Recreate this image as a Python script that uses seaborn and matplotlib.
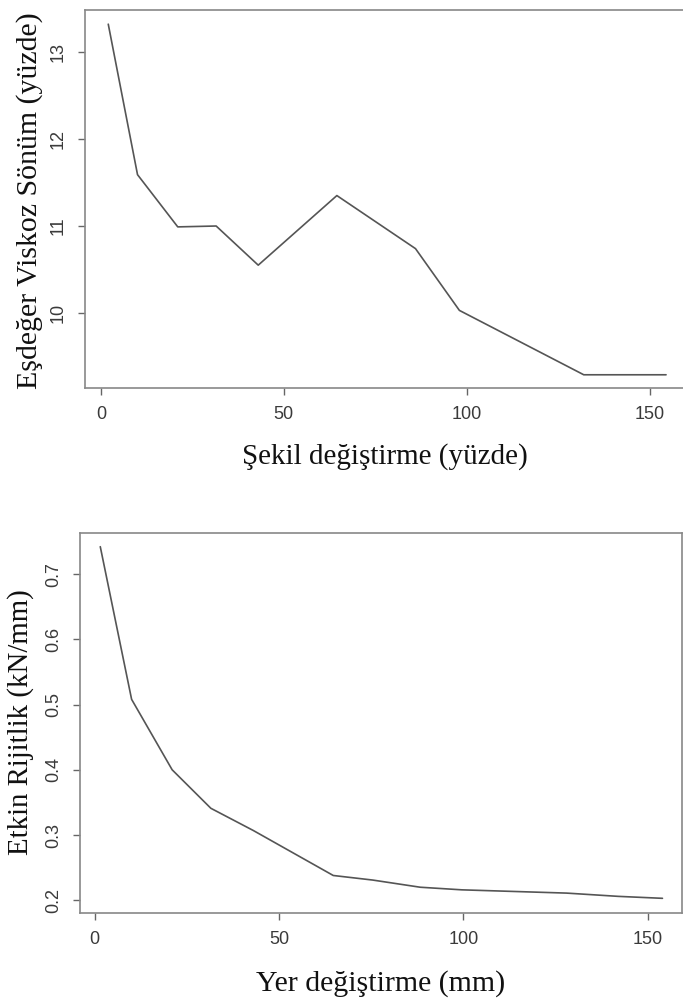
import matplotlib
matplotlib.use("Agg")
import matplotlib.pyplot as plt
import seaborn as sns
import pandas as pd

# --- data ---
strain_pct = [2, 10, 21, 31.5, 43, 64.5, 86, 98, 132, 154.5]
damping_pct = [13.32, 11.59, 10.99, 11.0, 10.55, 11.35, 10.74, 10.03, 9.29, 9.29]

disp_mm = [1.5, 10, 21, 31.5, 43, 64.7, 75.4, 88.3, 99.6, 128, 142, 154]
stiffness = [0.742, 0.508, 0.400, 0.341, 0.307, 0.238, 0.231, 0.220, 0.216, 0.211, 0.206, 0.203]

top_xticks = [0, 50, 100, 150]
top_yticks = [10, 11, 12, 13]
bot_xticks = [0, 50, 100, 150]
bot_yticks = [0.2, 0.3, 0.4, 0.5, 0.6, 0.7]

top_xlabel = "Şekil değiştirme (yüzde)"
top_ylabel = "Eşdeğer Viskoz Sönüm (yüzde)"
bot_xlabel = "Yer değiştirme (mm)"
bot_ylabel = "Etkin Rijitlik (kN/mm)"

sns.set_style("ticks")
plt.rcParams["font.family"] = ["Liberation Sans", "DejaVu Sans"]

W, H = 683, 1008
fig = plt.figure(figsize=(W / 100, H / 100), dpi=100)

def px_axes(l, t, r, b):
    return fig.add_axes([l / W, 1 - b / H, (r - l) / W, (b - t) / H])

ax1 = px_axes(85, 10, 688, 388)
ax2 = px_axes(80, 533, 682, 913)

df1 = pd.DataFrame({"x": strain_pct, "y": damping_pct})
df2 = pd.DataFrame({"x": disp_mm, "y": stiffness})

sns.lineplot(data=df1, x="x", y="y", ax=ax1, color="#555555", linewidth=1.2)
sns.lineplot(data=df2, x="x", y="y", ax=ax2, color="#555555", linewidth=1.2)

ax1.set_xlim(-4.36, 160.5)
ax1.set_ylim(9.138, 13.483)
ax2.set_xlim(-4.0, 159.3)
ax2.set_ylim(0.1805, 0.763)

serif = ["Liberation Serif", "DejaVu Serif"]

def style(ax, xt, yt, xl, yl, xlc, ylc, yfmt, xfs, yfs):
    ax.set_xticks(xt)
    ax.set_yticks(yt)
    ax.set_xticklabels([str(v) for v in xt])
    ax.set_yticklabels([yfmt(v) for v in yt], rotation=90, va="center")
    ax.tick_params(axis="both", length=5, width=1, color="#666666",
                   labelsize=13, labelcolor="#3a3a3a", pad=8)
    for s in ax.spines.values():
        s.set_visible(True)
        s.set_color("#888888")
        s.set_linewidth(1.2)
    ax.set_xlabel(xl, fontsize=xfs, family=serif, color="#111111", va="center")
    ax.set_ylabel(yl, fontsize=yfs, family=serif, color="#111111", va="center")
    ax.xaxis.set_label_coords(*xlc)
    ax.yaxis.set_label_coords(*ylc)

style(ax1, top_xticks, top_yticks, top_xlabel, top_ylabel,
      (0.497, -0.18), (-0.0917, 0.497), lambda v: str(v), 21, 21.5)
style(ax2, bot_xticks, bot_yticks, bot_xlabel, bot_ylabel,
      (0.5, -0.185), (-0.099, 0.502), lambda v: f"{v:.1f}", 21.5, 20.8)

fig.savefig("out.png", dpi=100)
